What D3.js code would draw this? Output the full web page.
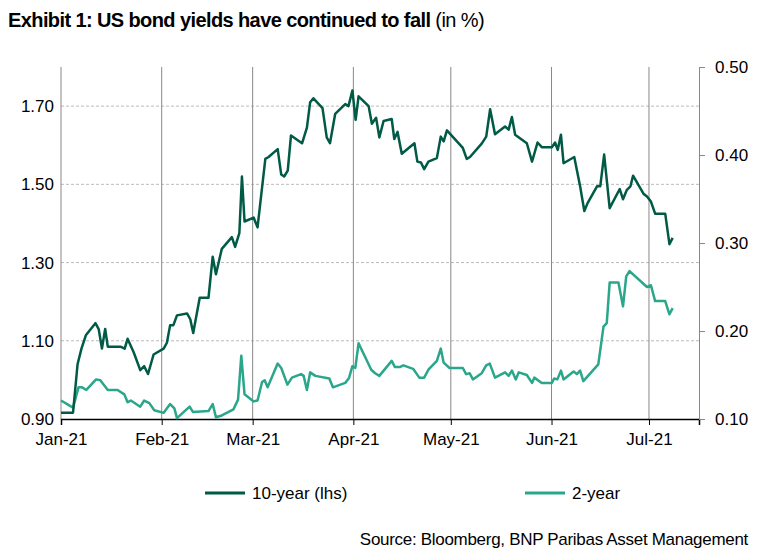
<!DOCTYPE html>
<html>
<head>
<meta charset="utf-8">
<script src="https://cdnjs.cloudflare.com/ajax/libs/d3/7.8.5/d3.min.js"></script>
<style>
  body { margin: 0; background: #fff; }
  text { font-family: Arial, "Liberation Sans", sans-serif; }
</style>
</head>
<body>
<div class="viz"></div>
<script>
// [day offset from 1 Jan 2021, yield]
const tenYear = [[0,0.916],[3.7,0.916],[5.1,1.04],[6.3,1.08],[7.7,1.115],[10.6,1.145],[11.6,1.13],[12.6,1.08],[13.6,1.13],[14.4,1.085],[18.3,1.085],[19.6,1.08],[20.5,1.105],[22.4,1.07],[24.4,1.025],[25.6,1.035],[26.8,1.015],[28.5,1.065],[31.6,1.08],[32.6,1.095],[33.6,1.14],[34.6,1.14],[35.7,1.165],[38.8,1.17],[39.8,1.155],[40.7,1.12],[42.7,1.21],[45.4,1.21],[46.7,1.315],[47.7,1.27],[49.5,1.335],[52.6,1.365],[53.6,1.34],[54.9,1.375],[55.7,1.52],[56.5,1.405],[59.3,1.415],[60.5,1.39],[62.9,1.565],[63.9,1.57],[66.7,1.59],[67.8,1.525],[68.7,1.52],[69.8,1.535],[70.8,1.625],[74.2,1.605],[75.7,1.645],[76.7,1.71],[77.7,1.72],[80.5,1.695],[81.8,1.62],[82.8,1.605],[84.4,1.68],[87.5,1.705],[88.5,1.70],[89.7,1.74],[90.7,1.665],[91.6,1.725],[94.7,1.70],[95.7,1.655],[97.0,1.67],[98.0,1.62],[99.3,1.662],[101.8,1.667],[102.6,1.616],[103.6,1.634],[104.9,1.578],[108.8,1.605],[109.7,1.558],[110.8,1.556],[111.8,1.539],[113.1,1.558],[115.7,1.567],[116.9,1.622],[117.8,1.61],[118.8,1.638],[123.7,1.593],[124.9,1.565],[125.9,1.57],[129.5,1.604],[130.9,1.622],[132.1,1.692],[133.6,1.628],[136.7,1.648],[137.8,1.64],[138.8,1.672],[139.8,1.627],[143.4,1.605],[145,1.558],[146.7,1.607],[148,1.595],[151.1,1.595],[152.1,1.607],[152.9,1.588],[153.9,1.627],[154.7,1.554],[158,1.57],[159.8,1.495],[161.1,1.432],[162.1,1.452],[165,1.495],[166,1.495],[167.2,1.576],[168.9,1.439],[172,1.488],[173,1.462],[174.2,1.486],[175.3,1.495],[176.1,1.522],[179.3,1.476],[180.4,1.469],[181.6,1.456],[182.9,1.425],[186,1.425],[187.3,1.347],[188.3,1.363]];
const twoYear = [[0,0.121],[3.7,0.113],[5.4,0.136],[6.5,0.136],[7.8,0.133],[10.8,0.145],[12.1,0.144],[14.4,0.133],[17.4,0.133],[19.5,0.128],[20.5,0.119],[21.5,0.121],[24.4,0.114],[25.6,0.121],[27.2,0.118],[28.7,0.110],[31.6,0.107],[33.6,0.117],[34.9,0.112],[35.7,0.101],[39.6,0.114],[40.6,0.108],[45.4,0.109],[46.7,0.117],[47.7,0.102],[49.5,0.104],[53.1,0.111],[54.5,0.122],[55.5,0.172],[56.5,0.128],[59.3,0.120],[60.5,0.121],[61.9,0.142],[62.7,0.144],[63.6,0.136],[66.7,0.163],[67.8,0.158],[69.7,0.139],[71.1,0.147],[73.9,0.151],[74.7,0.149],[75.7,0.133],[76.7,0.153],[78.3,0.149],[82.6,0.146],[83.7,0.136],[87.5,0.141],[88.7,0.147],[89.7,0.160],[90.6,0.158],[91.6,0.186],[95.5,0.156],[96.7,0.152],[98,0.149],[101.8,0.166],[102.8,0.159],[104.3,0.159],[105.4,0.161],[108.4,0.157],[110.3,0.147],[111.8,0.147],[113.1,0.156],[115.7,0.166],[116.9,0.180],[117.8,0.164],[119.6,0.158],[123.7,0.158],[124.7,0.151],[125.8,0.152],[126.8,0.145],[129.5,0.152],[130.9,0.161],[132,0.163],[133.6,0.147],[136.7,0.153],[137.8,0.149],[138.8,0.155],[140,0.145],[140.9,0.153],[143.4,0.150],[145,0.141],[145.7,0.147],[148,0.141],[151.1,0.141],[151.8,0.146],[152.8,0.145],[153.9,0.155],[154.7,0.145],[157.8,0.154],[158.8,0.151],[159.8,0.155],[160.8,0.143],[165.4,0.162],[167,0.205],[168,0.209],[168.9,0.255],[171.6,0.255],[173,0.228],[174,0.262],[175,0.268],[180.4,0.250],[181.6,0.252],[182.9,0.234],[186,0.234],[187.3,0.219],[188.3,0.226]];

const start = new Date(2021, 0, 1);
const toDate = d => new Date(start.getTime() + d * 86400000);

const width = 759, height = 560;
const m = {left: 61, right: 60, top: 67, bottom: 141};
const svg = d3.select(".viz").append("svg").attr("width", width).attr("height", height);

const x = d3.scaleTime().domain([start, toDate(196.4)]).range([m.left, width - m.right]);
const yL = d3.scaleLinear().domain([0.9, 1.8]).range([height - m.bottom, m.top]);
const yR = d3.scaleLinear().domain([0.1, 0.5]).range([height - m.bottom, m.top]);

const months = d3.timeMonth.range(start, toDate(196.4));

// horizontal dashed gridlines
svg.append("g").selectAll("line").data([1.1, 1.3, 1.5, 1.7]).join("line")
  .attr("x1", m.left).attr("x2", width - m.right)
  .attr("y1", d => yL(d)).attr("y2", d => yL(d))
  .attr("stroke", "#bbb").attr("stroke-dasharray", "3,2");

// vertical gridlines
svg.append("g").selectAll("line").data(months).join("line")
  .attr("x1", d => x(d)).attr("x2", d => x(d))
  .attr("y1", m.top).attr("y2", height - m.bottom)
  .attr("stroke", "#888");

// x axis
const xAxis = svg.append("g").attr("transform", `translate(0,${height - m.bottom})`)
  .call(d3.axisBottom(x).tickValues(months).tickFormat(d3.timeFormat("%b-%y")).tickSize(6).tickPadding(8));
xAxis.select(".domain").attr("stroke", "#000").attr("stroke-width", 1.5);
xAxis.selectAll("text").attr("font-size", 17).attr("fill", "#000");

// left axis labels
const yAxisL = svg.append("g").attr("transform", `translate(${m.left},0)`)
  .call(d3.axisLeft(yL).tickValues([0.9, 1.1, 1.3, 1.5, 1.7]).tickFormat(d3.format(".2f")).tickSize(0).tickPadding(7));
yAxisL.select(".domain").remove();
yAxisL.selectAll("text").attr("font-size", 17).attr("fill", "#000");

// right axis
const yAxisR = svg.append("g").attr("transform", `translate(${width - m.right},0)`)
  .call(d3.axisRight(yR).tickValues([0.1, 0.2, 0.3, 0.4, 0.5]).tickFormat(d3.format(".2f")).tickSize(6).tickSizeOuter(6).tickPadding(10));
yAxisR.select(".domain").attr("stroke", "#6f8db3");
yAxisR.selectAll(".tick line").attr("stroke", "#6f8db3");
yAxisR.selectAll("text").attr("font-size", 17).attr("fill", "#000");

const line10 = d3.line().x(d => x(toDate(d[0]))).y(d => yL(d[1]));
const line2 = d3.line().x(d => x(toDate(d[0]))).y(d => yR(d[1]));

svg.append("path").datum(twoYear).attr("d", line2)
  .attr("fill", "none").attr("stroke", "#2aa68a").attr("stroke-width", 2.5).attr("stroke-linejoin", "round");
svg.append("path").datum(tenYear).attr("d", line10)
  .attr("fill", "none").attr("stroke", "#005a45").attr("stroke-width", 2.5).attr("stroke-linejoin", "round");

// title
const title = svg.append("text").attr("x", 8).attr("y", 27).attr("font-size", 20)
  .attr("letter-spacing", -0.6);
title.append("tspan").attr("font-weight", "bold").text("Exhibit 1: US bond yields have continued to fall");
title.append("tspan").text(" (in %)");

// legend
const legend = [{label: "10-year (lhs)", color: "#005a45", x: 205}, {label: "2-year", color: "#2aa68a", x: 525}];
const lg = svg.append("g").selectAll("g").data(legend).join("g");
lg.append("line").attr("x1", d => d.x).attr("x2", d => d.x + 40).attr("y1", 493).attr("y2", 493)
  .attr("stroke", d => d.color).attr("stroke-width", 3);
lg.append("text").attr("x", d => d.x + 47).attr("y", 499).attr("font-size", 17).text(d => d.label);

svg.append("text").attr("x", 748).attr("y", 545).attr("text-anchor", "end").attr("font-size", 17)
  .attr("letter-spacing", -0.3)
  .text("Source: Bloomberg, BNP Paribas Asset Management");
</script>
</body>
</html>
